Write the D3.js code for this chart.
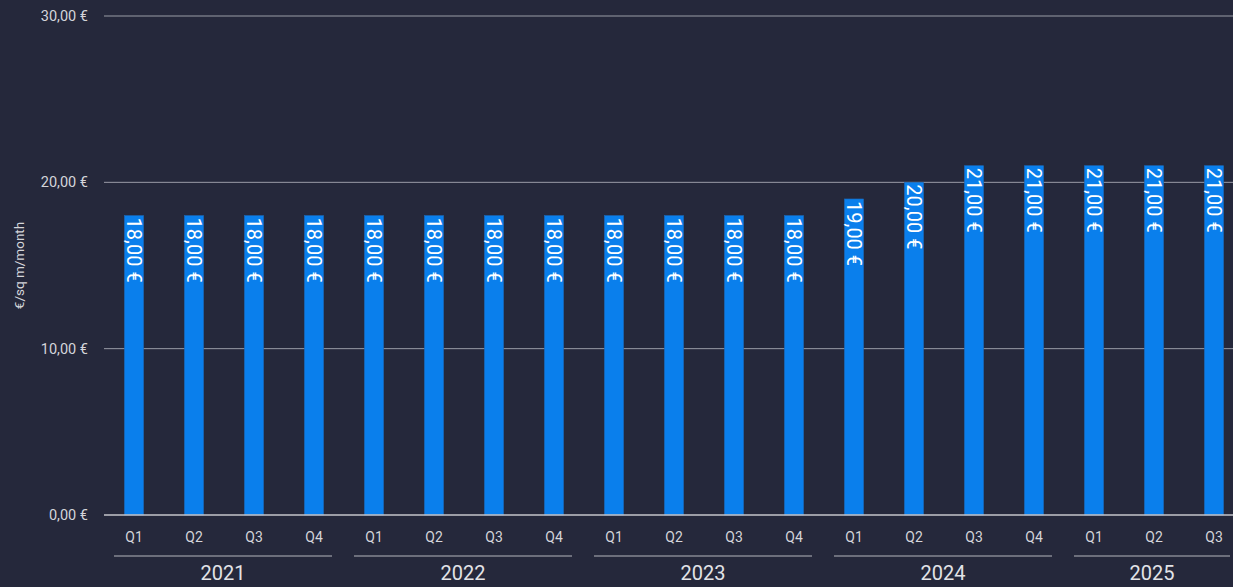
<!DOCTYPE html>
<html lang="en">
<head>
    <meta charset="UTF-8">
    <title>Rent per sq m by quarter</title>
    <script src="https://d3js.org/d3.v7.min.js"></script>
    <style>
        body {
            margin: 0;
            background-color: #25283b;
            overflow: hidden;
        }
        svg {
            display: block;
            font-family: Roboto, "DejaVu Sans", sans-serif;
        }
    </style>
</head>
<body>
<svg></svg>
<script>
    // data
    const years = ["2021", "2022", "2023", "2024", "2025"];
    const periods = [
        "2021-Q1", "2021-Q2", "2021-Q3", "2021-Q4",
        "2022-Q1", "2022-Q2", "2022-Q3", "2022-Q4",
        "2023-Q1", "2023-Q2", "2023-Q3", "2023-Q4",
        "2024-Q1", "2024-Q2", "2024-Q3", "2024-Q4",
        "2025-Q1", "2025-Q2", "2025-Q3"
    ];
    const rents = [18, 18, 18, 18, 18, 18, 18, 18, 18, 18, 18, 18, 19, 20, 21, 21, 21, 21, 21];
    const yTicks = [0, 10, 20, 30];
    const yTitle = "€/sq m/month";

    const W = 1233, H = 587;
    const margin = {left: 104, top: 16, bottom: 515};
    const step = 60;

    const svg = d3.select("svg").attr("width", W).attr("height", H);

    const data = periods.map((p, i) => ({key: p, year: p.slice(0, 4), q: p.slice(5), value: rents[i]}));

    const x = d3.scaleBand()
        .domain(periods)
        .range([margin.left, margin.left + periods.length * step])
        .paddingInner(0.68)
        .paddingOuter(0.34);

    const y = d3.scaleLinear().domain([0, 30]).range([margin.bottom, margin.top]);

    const fmt = v => d3.format(".2f")(v).replace(".", ",") + " €";

    // grid lines + y labels
    const grid = svg.append("g");
    grid.selectAll("line")
        .data(yTicks.filter(d => d > 0))
        .join("line")
        .attr("x1", margin.left).attr("x2", W)
        .attr("y1", d => y(d)).attr("y2", d => y(d))
        .attr("stroke", "#9a9ca6")
        .attr("stroke-width", 1);

    grid.selectAll("text")
        .data(yTicks)
        .join("text")
        .attr("x", 88)
        .attr("y", d => y(d))
        .attr("dy", "0.35em")
        .attr("text-anchor", "end")
        .attr("font-size", "14.5px")
        .attr("fill", "#d4d5da")
        .text(fmt);

    svg.append("text")
        .attr("transform", `translate(24,${(margin.top + margin.bottom) / 2}) rotate(-90)`)
        .attr("text-anchor", "middle")
        .attr("font-size", "13.5px")
        .attr("fill", "#d4d5da")
        .text(yTitle);

    // bars
    svg.append("g").selectAll("rect")
        .data(data)
        .join("rect")
        .attr("x", d => x(d.key))
        .attr("y", d => y(d.value))
        .attr("width", x.bandwidth())
        .attr("height", d => y(0) - y(d.value))
        .attr("fill", "#0a7fec")
        .attr("stroke", "#1b69b8")
        .attr("stroke-width", 0.6);

    // value labels, rotated
    svg.append("g").selectAll("text")
        .data(data)
        .join("text")
        .attr("transform", d => `translate(${x(d.key) + x.bandwidth() / 2},${y(d.value) + 2}) rotate(90)`)
        .attr("dominant-baseline", "central")
        .attr("font-size", "20px")
        .attr("fill", "#ffffff")
        .text(d => fmt(d.value));

    // baseline
    svg.append("line")
        .attr("x1", margin.left).attr("x2", W)
        .attr("y1", y(0)).attr("y2", y(0))
        .attr("stroke", "#c4c5cb")
        .attr("stroke-width", 1.5);

    // quarter labels
    svg.append("g").selectAll("text")
        .data(data)
        .join("text")
        .attr("x", d => x(d.key) + x.bandwidth() / 2)
        .attr("y", 537)
        .attr("dy", "0.35em")
        .attr("text-anchor", "middle")
        .attr("font-size", "14px")
        .attr("fill", "#d4d5da")
        .text(d => d.q);

    // year groups
    const groups = years.map(yr => {
        const ks = data.filter(d => d.year === yr).map(d => d.key);
        const x0 = x(ks[0]) - x.step() * x.paddingOuter();
        const x1 = x(ks[ks.length - 1]) + x.bandwidth() + x.step() * x.paddingOuter();
        return {year: yr, x0: x0 + 10, x1: Math.min(x1 - 12, W - 3)};
    });

    const yg = svg.append("g");
    yg.selectAll("line")
        .data(groups)
        .join("line")
        .attr("x1", d => d.x0).attr("x2", d => d.x1)
        .attr("y1", 556).attr("y2", 556)
        .attr("stroke", "#b5b6bd")
        .attr("stroke-width", 1);

    yg.selectAll("text")
        .data(groups)
        .join("text")
        .attr("x", d => (d.x0 + d.x1) / 2)
        .attr("y", 573)
        .attr("dy", "0.35em")
        .attr("text-anchor", "middle")
        .attr("font-size", "20px")
        .attr("fill", "#e2e3e7")
        .text(d => d.year);
</script>
</body>
</html>
